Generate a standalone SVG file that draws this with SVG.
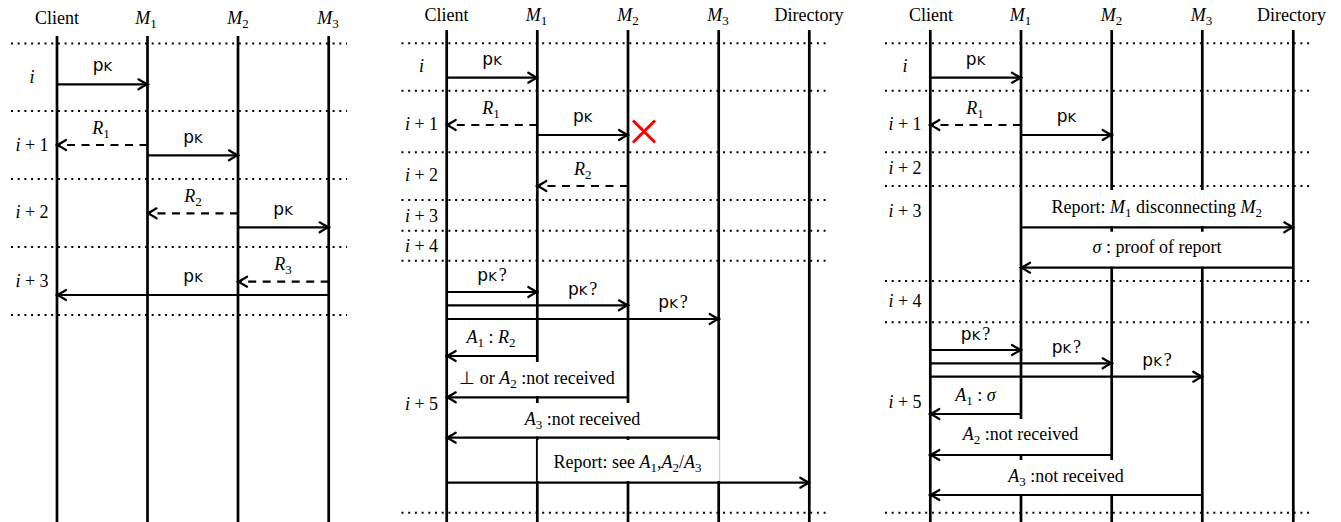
<svg xmlns="http://www.w3.org/2000/svg" width="1341" height="522" viewBox="0 0 1341 522">
<defs>
<style>
.t{font-family:"Liberation Serif","Times New Roman",serif;font-size:18px;fill:#000}
.it{font-style:italic}
.sb{font-size:13px}
.sf{font-family:"DejaVu Sans","Liberation Sans",sans-serif;font-size:17px;fill:#000}
.k{font-size:13px}
.q{font-family:"Liberation Serif",serif;font-size:18px}
.life{stroke:#000;stroke-width:2.7;fill:none}
.dot{stroke:#000;stroke-width:2;stroke-dasharray:2 4.7;fill:none}
.ar{stroke:#000;stroke-width:2.2;fill:none;marker-end:url(#ah)}
.da{stroke:#000;stroke-width:2.2;fill:none;stroke-dasharray:8 6.5;marker-end:url(#ah)}
.box{fill:#fff;stroke:none}
.x{stroke:#ff0000;stroke-width:3;fill:none}
</style>
<marker id="ah" viewBox="-11 -7 13 14" refX="0" refY="0" markerWidth="13" markerHeight="14" orient="auto" markerUnits="userSpaceOnUse">
<path d="M-9,-5 Q-3,-1.3 0,0 Q-3,1.3 -9,5" fill="none" stroke="#000" stroke-width="2.2" stroke-linecap="round"/>
</marker>
</defs>
<rect width="1341" height="522" fill="#fff"/>

<!-- ================= PANEL 1 ================= -->
<g id="panel1">
<g id="p1-grid">
<line class="dot" x1="11" y1="43.5" x2="347" y2="43.5"/>
<line class="dot" x1="11" y1="111" x2="347" y2="111"/>
<line class="dot" x1="11" y1="179" x2="347" y2="179"/>
<line class="dot" x1="11" y1="247" x2="347" y2="247"/>
<line class="dot" x1="11" y1="315" x2="347" y2="315"/>
<text class="t" x="32" y="83" text-anchor="middle"><tspan class="it">i</tspan></text>
<text class="t" x="32" y="151" text-anchor="middle"><tspan class="it">i</tspan> + 1</text>
<text class="t" x="32" y="218" text-anchor="middle"><tspan class="it">i</tspan> + 2</text>
<text class="t" x="32" y="287" text-anchor="middle"><tspan class="it">i</tspan> + 3</text>
</g>
<g id="p1-client"><line class="life" x1="57" y1="36" x2="57" y2="522"/><text class="t" x="57" y="24" text-anchor="middle">Client</text></g>
<g id="p1-m1"><line class="life" x1="147.5" y1="36" x2="147.5" y2="522"/><text class="t" x="146" y="24" text-anchor="middle"><tspan class="it">M</tspan><tspan class="sb" dy="4">1</tspan></text></g>
<g id="p1-m2"><line class="life" x1="238" y1="36" x2="238" y2="522"/><text class="t" x="238" y="24" text-anchor="middle"><tspan class="it">M</tspan><tspan class="sb" dy="4">2</tspan></text></g>
<g id="p1-m3"><line class="life" x1="328.7" y1="36" x2="328.7" y2="522"/><text class="t" x="328" y="24" text-anchor="middle"><tspan class="it">M</tspan><tspan class="sb" dy="4">3</tspan></text></g>
<g id="p1-connectors">
<line class="ar" x1="57" y1="84.3" x2="147.5" y2="84.3"/>
<text class="sf" x="102.3" y="71" text-anchor="middle">p<tspan class="k">K</tspan></text>
<line class="da" x1="147.5" y1="145" x2="57" y2="145"/>
<text class="t" x="101" y="134" text-anchor="middle"><tspan class="it">R</tspan><tspan class="sb" dy="4">1</tspan></text>
<line class="ar" x1="147.5" y1="155.3" x2="238" y2="155.3"/>
<text class="sf" x="192.8" y="142.5" text-anchor="middle">p<tspan class="k">K</tspan></text>
<line class="da" x1="238" y1="213.3" x2="147.5" y2="213.3"/>
<text class="t" x="193" y="202" text-anchor="middle"><tspan class="it">R</tspan><tspan class="sb" dy="4">2</tspan></text>
<line class="ar" x1="238" y1="227.3" x2="328.7" y2="227.3"/>
<text class="sf" x="283" y="214.5" text-anchor="middle">p<tspan class="k">K</tspan></text>
<line class="da" x1="328.7" y1="281.7" x2="238" y2="281.7"/>
<text class="t" x="283" y="270" text-anchor="middle"><tspan class="it">R</tspan><tspan class="sb" dy="4">3</tspan></text>
<line class="ar" x1="328.7" y1="295" x2="57" y2="295"/>
<text class="sf" x="193" y="282" text-anchor="middle">p<tspan class="k">K</tspan></text>
</g>
</g>

<!-- ================= PANEL 2 ================= -->
<g id="panel2">
<g id="p2-grid">
<line class="dot" x1="401.5" y1="43.3" x2="827" y2="43.3"/>
<line class="dot" x1="401.5" y1="90.7" x2="827" y2="90.7"/>
<line class="dot" x1="401.5" y1="152.3" x2="827" y2="152.3"/>
<line class="dot" x1="401.5" y1="200" x2="827" y2="200"/>
<line class="dot" x1="401.5" y1="230.7" x2="827" y2="230.7"/>
<line class="dot" x1="401.5" y1="260.7" x2="827" y2="260.7"/>
<line class="dot" x1="401.5" y1="512.7" x2="827" y2="512.7"/>
<text class="t" x="421.5" y="72" text-anchor="middle"><tspan class="it">i</tspan></text>
<text class="t" x="421.5" y="130" text-anchor="middle"><tspan class="it">i</tspan> + 1</text>
<text class="t" x="421.5" y="180.5" text-anchor="middle"><tspan class="it">i</tspan> + 2</text>
<text class="t" x="421.5" y="221.5" text-anchor="middle"><tspan class="it">i</tspan> + 3</text>
<text class="t" x="421.5" y="251.5" text-anchor="middle"><tspan class="it">i</tspan> + 4</text>
<text class="t" x="421.5" y="410" text-anchor="middle"><tspan class="it">i</tspan> + 5</text>
</g>
<g id="p2-client"><line class="life" x1="446.7" y1="30" x2="446.7" y2="522"/><text class="t" x="446.5" y="21" text-anchor="middle">Client</text></g>
<g id="p2-m1"><line class="life" x1="537.3" y1="30" x2="537.3" y2="522"/><text class="t" x="536.5" y="21" text-anchor="middle"><tspan class="it">M</tspan><tspan class="sb" dy="4">1</tspan></text></g>
<g id="p2-m2"><line class="life" x1="628" y1="30" x2="628" y2="522"/><text class="t" x="628" y="21" text-anchor="middle"><tspan class="it">M</tspan><tspan class="sb" dy="4">2</tspan></text></g>
<g id="p2-m3"><line class="life" x1="718.7" y1="30" x2="718.7" y2="522"/><text class="t" x="718" y="21" text-anchor="middle"><tspan class="it">M</tspan><tspan class="sb" dy="4">3</tspan></text></g>
<g id="p2-dir"><line class="life" x1="809.3" y1="30" x2="809.3" y2="522"/><text class="t" x="809" y="21" text-anchor="middle">Directory</text></g>
<g id="p2-connectors">
<line class="ar" x1="446.7" y1="77.7" x2="537.3" y2="77.7"/>
<text class="sf" x="492" y="65" text-anchor="middle">p<tspan class="k">K</tspan></text>
<line class="da" x1="537.3" y1="125" x2="446.7" y2="125"/>
<text class="t" x="491" y="114" text-anchor="middle"><tspan class="it">R</tspan><tspan class="sb" dy="4">1</tspan></text>
<line class="ar" x1="537.3" y1="135" x2="628" y2="135"/>
<text class="sf" x="582.7" y="122" text-anchor="middle">p<tspan class="k">K</tspan></text>
<path class="x" d="M633,120.5 L655,142.5 M655,120.5 L633,142.5"/>
<line class="da" x1="628" y1="186" x2="537.3" y2="186"/>
<text class="t" x="582.7" y="175" text-anchor="middle"><tspan class="it">R</tspan><tspan class="sb" dy="4">2</tspan></text>
<line class="ar" x1="446.7" y1="292" x2="537.3" y2="292"/>
<text class="sf" x="492" y="281" text-anchor="middle">p<tspan class="k">K</tspan><tspan class="q" dx="2">?</tspan></text>
<line class="ar" x1="446.7" y1="305.3" x2="628" y2="305.3"/>
<text class="sf" x="582.7" y="294.5" text-anchor="middle">p<tspan class="k">K</tspan><tspan class="q" dx="2">?</tspan></text>
<line class="ar" x1="446.7" y1="319" x2="718.7" y2="319"/>
<text class="sf" x="673" y="308" text-anchor="middle">p<tspan class="k">K</tspan><tspan class="q" dx="2">?</tspan></text>
<line class="ar" x1="537.3" y1="356" x2="446.7" y2="356"/>
<text class="t" x="491" y="343" text-anchor="middle"><tspan class="it">A</tspan><tspan class="sb" dy="4">1</tspan><tspan dy="-4"> : </tspan><tspan class="it">R</tspan><tspan class="sb" dy="4">2</tspan></text>
<rect class="box" x="449" y="362" width="177" height="34"/>
<line class="ar" x1="628" y1="397.3" x2="446.7" y2="397.3"/>
<text class="t" x="537" y="383.5" text-anchor="middle">⊥ or <tspan class="it">A</tspan><tspan class="sb" dy="4">2</tspan><tspan dy="-4"> :not received</tspan></text>
<rect class="box" x="513" y="403" width="140" height="33.5"/>
<line class="ar" x1="718.7" y1="437.7" x2="446.7" y2="437.7"/>
<text class="t" x="582.5" y="425" text-anchor="middle"><tspan class="it">A</tspan><tspan class="sb" dy="4">3</tspan><tspan dy="-4"> :not received</tspan></text>
<rect class="box" x="537.8" y="440" width="182" height="41"/>
<line class="ar" x1="446.7" y1="482.7" x2="809.3" y2="482.7"/>
<text class="t" x="627.5" y="468" text-anchor="middle">Report: see <tspan class="it">A</tspan><tspan class="sb" dy="4">1</tspan><tspan dy="-4">,</tspan><tspan class="it">A</tspan><tspan class="sb" dy="4">2</tspan><tspan dy="-4">/</tspan><tspan class="it">A</tspan><tspan class="sb" dy="4">3</tspan></text>
</g>
</g>

<!-- ================= PANEL 3 ================= -->
<g id="panel3">
<g id="p3-grid">
<line class="dot" x1="885" y1="43.3" x2="1310" y2="43.3"/>
<line class="dot" x1="885" y1="90.7" x2="1310" y2="90.7"/>
<line class="dot" x1="885" y1="152.3" x2="1310" y2="152.3"/>
<line class="dot" x1="885" y1="186" x2="1310" y2="186"/>
<line class="dot" x1="885" y1="281" x2="1310" y2="281"/>
<line class="dot" x1="885" y1="322.3" x2="1310" y2="322.3"/>
<line class="dot" x1="885" y1="512.7" x2="1310" y2="512.7"/>
<text class="t" x="905" y="72" text-anchor="middle"><tspan class="it">i</tspan></text>
<text class="t" x="905" y="130" text-anchor="middle"><tspan class="it">i</tspan> + 1</text>
<text class="t" x="905" y="174" text-anchor="middle"><tspan class="it">i</tspan> + 2</text>
<text class="t" x="905" y="216.5" text-anchor="middle"><tspan class="it">i</tspan> + 3</text>
<text class="t" x="905" y="306.5" text-anchor="middle"><tspan class="it">i</tspan> + 4</text>
<text class="t" x="905" y="408.3" text-anchor="middle"><tspan class="it">i</tspan> + 5</text>
</g>
<g id="p3-client"><line class="life" x1="930.3" y1="30" x2="930.3" y2="522"/><text class="t" x="931" y="21" text-anchor="middle">Client</text></g>
<g id="p3-m1"><line class="life" x1="1021" y1="30" x2="1021" y2="522"/><text class="t" x="1020.5" y="21" text-anchor="middle"><tspan class="it">M</tspan><tspan class="sb" dy="4">1</tspan></text></g>
<g id="p3-m2"><line class="life" x1="1111.7" y1="30" x2="1111.7" y2="522"/><text class="t" x="1111.5" y="21" text-anchor="middle"><tspan class="it">M</tspan><tspan class="sb" dy="4">2</tspan></text></g>
<g id="p3-m3"><line class="life" x1="1202.3" y1="30" x2="1202.3" y2="522"/><text class="t" x="1201.5" y="21" text-anchor="middle"><tspan class="it">M</tspan><tspan class="sb" dy="4">3</tspan></text></g>
<g id="p3-dir"><line class="life" x1="1293.3" y1="30" x2="1293.3" y2="522"/><text class="t" x="1291.5" y="21" text-anchor="middle">Directory</text></g>
<g id="p3-connectors">
<line class="ar" x1="930.3" y1="77.7" x2="1021" y2="77.7"/>
<text class="sf" x="975.5" y="65" text-anchor="middle">p<tspan class="k">K</tspan></text>
<line class="da" x1="1021" y1="125" x2="930.3" y2="125"/>
<text class="t" x="975" y="114" text-anchor="middle"><tspan class="it">R</tspan><tspan class="sb" dy="4">1</tspan></text>
<line class="ar" x1="1021" y1="135" x2="1111.7" y2="135"/>
<text class="sf" x="1066.4" y="122" text-anchor="middle">p<tspan class="k">K</tspan></text>
<rect class="box" x="1037" y="190" width="240" height="36"/>
<line class="ar" x1="1021" y1="227.3" x2="1293.3" y2="227.3"/>
<text class="t" x="1156.7" y="213.3" text-anchor="middle">Report: <tspan class="it">M</tspan><tspan class="sb" dy="4">1</tspan><tspan dy="-4"> disconnecting </tspan><tspan class="it">M</tspan><tspan class="sb" dy="4">2</tspan></text>
<rect class="box" x="1078" y="231.7" width="157" height="35"/>
<line class="ar" x1="1293.3" y1="267.7" x2="1021" y2="267.7"/>
<text class="t" x="1157" y="253.3" text-anchor="middle"><tspan class="it">σ</tspan> : proof of report</text>
<line class="ar" x1="930.3" y1="350" x2="1021" y2="350"/>
<text class="sf" x="975.5" y="339.5" text-anchor="middle">p<tspan class="k">K</tspan><tspan class="q" dx="2">?</tspan></text>
<line class="ar" x1="930.3" y1="363.3" x2="1111.7" y2="363.3"/>
<text class="sf" x="1066.4" y="352.5" text-anchor="middle">p<tspan class="k">K</tspan><tspan class="q" dx="2">?</tspan></text>
<line class="ar" x1="930.3" y1="376.7" x2="1202.3" y2="376.7"/>
<text class="sf" x="1157" y="366" text-anchor="middle">p<tspan class="k">K</tspan><tspan class="q" dx="2">?</tspan></text>
<line class="ar" x1="1021" y1="414" x2="930.3" y2="414"/>
<text class="t" x="975.5" y="400.7" text-anchor="middle"><tspan class="it">A</tspan><tspan class="sb" dy="4">1</tspan><tspan dy="-4"> : </tspan><tspan class="it">σ</tspan></text>
<rect class="box" x="950" y="419" width="141" height="35"/>
<line class="ar" x1="1111.7" y1="455" x2="930.3" y2="455"/>
<text class="t" x="1020.5" y="440" text-anchor="middle"><tspan class="it">A</tspan><tspan class="sb" dy="4">2</tspan><tspan dy="-4"> :not received</tspan></text>
<rect class="box" x="997" y="460" width="138" height="34"/>
<line class="ar" x1="1202.3" y1="495" x2="930.3" y2="495"/>
<text class="t" x="1066" y="481.7" text-anchor="middle"><tspan class="it">A</tspan><tspan class="sb" dy="4">3</tspan><tspan dy="-4"> :not received</tspan></text>
</g>
</g>
</svg>
